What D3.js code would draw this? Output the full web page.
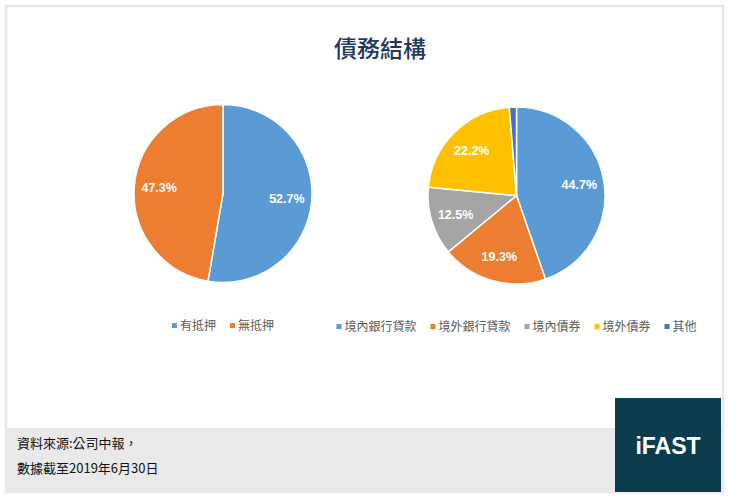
<!DOCTYPE html>
<html>
<head>
<meta charset="utf-8">
<script src="https://cdn.jsdelivr.net/npm/d3@7"></script>
<style>
  body { margin: 0; background: #fff; }
  svg { display: block; }
</style>
</head>
<body>
<script>
const W = 729, H = 499

// data
const title = '債務結構'
const pledgeCats = ['有抵押', '無抵押']
const pledgeVals = [52.7, 47.3]
const sourceCats = ['境內銀行貸款', '境外銀行貸款', '境內債券', '境外債券', '其他']
const sourceVals = [44.7, 19.3, 12.5, 22.2, 1.3]
const footLines = ['資料來源:公司中報，', '數據截至2019年6月30日']

const palette = ['#5B9BD5', '#ED7D31', '#A5A5A5', '#FFC000', '#4472C4']
const cjk = '"Noto Sans CJK TC", "Noto Sans", sans-serif'

const svg = d3.select('body').append('svg').attr('width', W).attr('height', H)

// frame + footer
svg.append('rect').attr('x', 6).attr('y', 6).attr('width', 717).attr('height', 486)
  .attr('fill', '#fff').attr('stroke', '#e6e6e6').attr('stroke-width', 2.5)
svg.append('rect').attr('x', 5).attr('y', 428).attr('width', 718).attr('height', 65).attr('fill', '#e9e9e9')
svg.append('rect').attr('x', 615).attr('y', 398).attr('width', 106).attr('height', 94).attr('fill', '#0c3d4f')
svg.append('text').attr('x', 668).attr('y', 454).attr('text-anchor', 'middle')
  .style('font', 'bold 23px "Liberation Sans", Arial, sans-serif').attr('fill', '#fff').text('iFAST')

svg.selectAll('text.foot').data(footLines).enter().append('text')
  .attr('class', 'foot')
  .attr('x', 17).attr('y', (d, i) => 448 + i * 25)
  .style('font-family', cjk).style('font-size', '13px').attr('fill', '#111')
  .text(d => d)

svg.append('text').attr('x', 380).attr('y', 57).attr('text-anchor', 'middle')
  .style('font-family', cjk).style('font-size', '23px').style('font-weight', 500)
  .attr('fill', '#1F3864').text(title)

function drawPie(cats, vals, cx, cy, r, legendY, showLabel) {
  const g = svg.append('g').attr('transform', `translate(${cx},${cy})`)
  const pie = d3.pie().sort(null).value(d => d.v)
  const arcs = pie(cats.map((c, i) => ({ c: c, v: vals[i], i: i })))
  const arc = d3.arc().innerRadius(0).outerRadius(r)
  const labelArc = d3.arc().innerRadius(r * 0.72).outerRadius(r * 0.72)

  g.selectAll('path').data(arcs).enter().append('path')
    .attr('d', arc)
    .attr('fill', d => palette[d.data.i])
    .attr('stroke', '#fff').attr('stroke-width', 1.5)

  g.selectAll('text').data(arcs.filter(d => showLabel(d.data.v))).enter().append('text')
    .attr('transform', d => `translate(${labelArc.centroid(d)})`)
    .attr('text-anchor', 'middle').attr('dy', '0.35em')
    .style('font', 'bold 12.5px "Liberation Sans", Arial, sans-serif')
    .attr('fill', '#fff')
    .text(d => d3.format('.1f')(d.data.v) + '%')

  // legend, centred under the pie
  const lg = svg.append('g')
  const items = lg.selectAll('g').data(cats).enter().append('g')
  items.append('rect').attr('width', 5).attr('height', 5).attr('y', -3)
    .attr('fill', (d, i) => palette[i])
  items.append('text').attr('x', 8).attr('dy', '0.35em')
    .style('font-family', cjk).style('font-size', '12px').attr('fill', '#595959')
    .text(d => d)
  let x = 0
  items.each(function () {
    d3.select(this).attr('transform', `translate(${x},0)`)
    x += 8 + d3.select(this).select('text').node().getComputedTextLength() + 14
  })
  const total = x - 14
  lg.attr('transform', `translate(${cx - total / 2},${legendY})`)
}

drawPie(pledgeCats, pledgeVals, 223, 193.5, 89, 326, v => true)
drawPie(sourceCats, sourceVals, 516.5, 195.5, 88.5, 327, v => v > 5)
</script>
</body>
</html>
